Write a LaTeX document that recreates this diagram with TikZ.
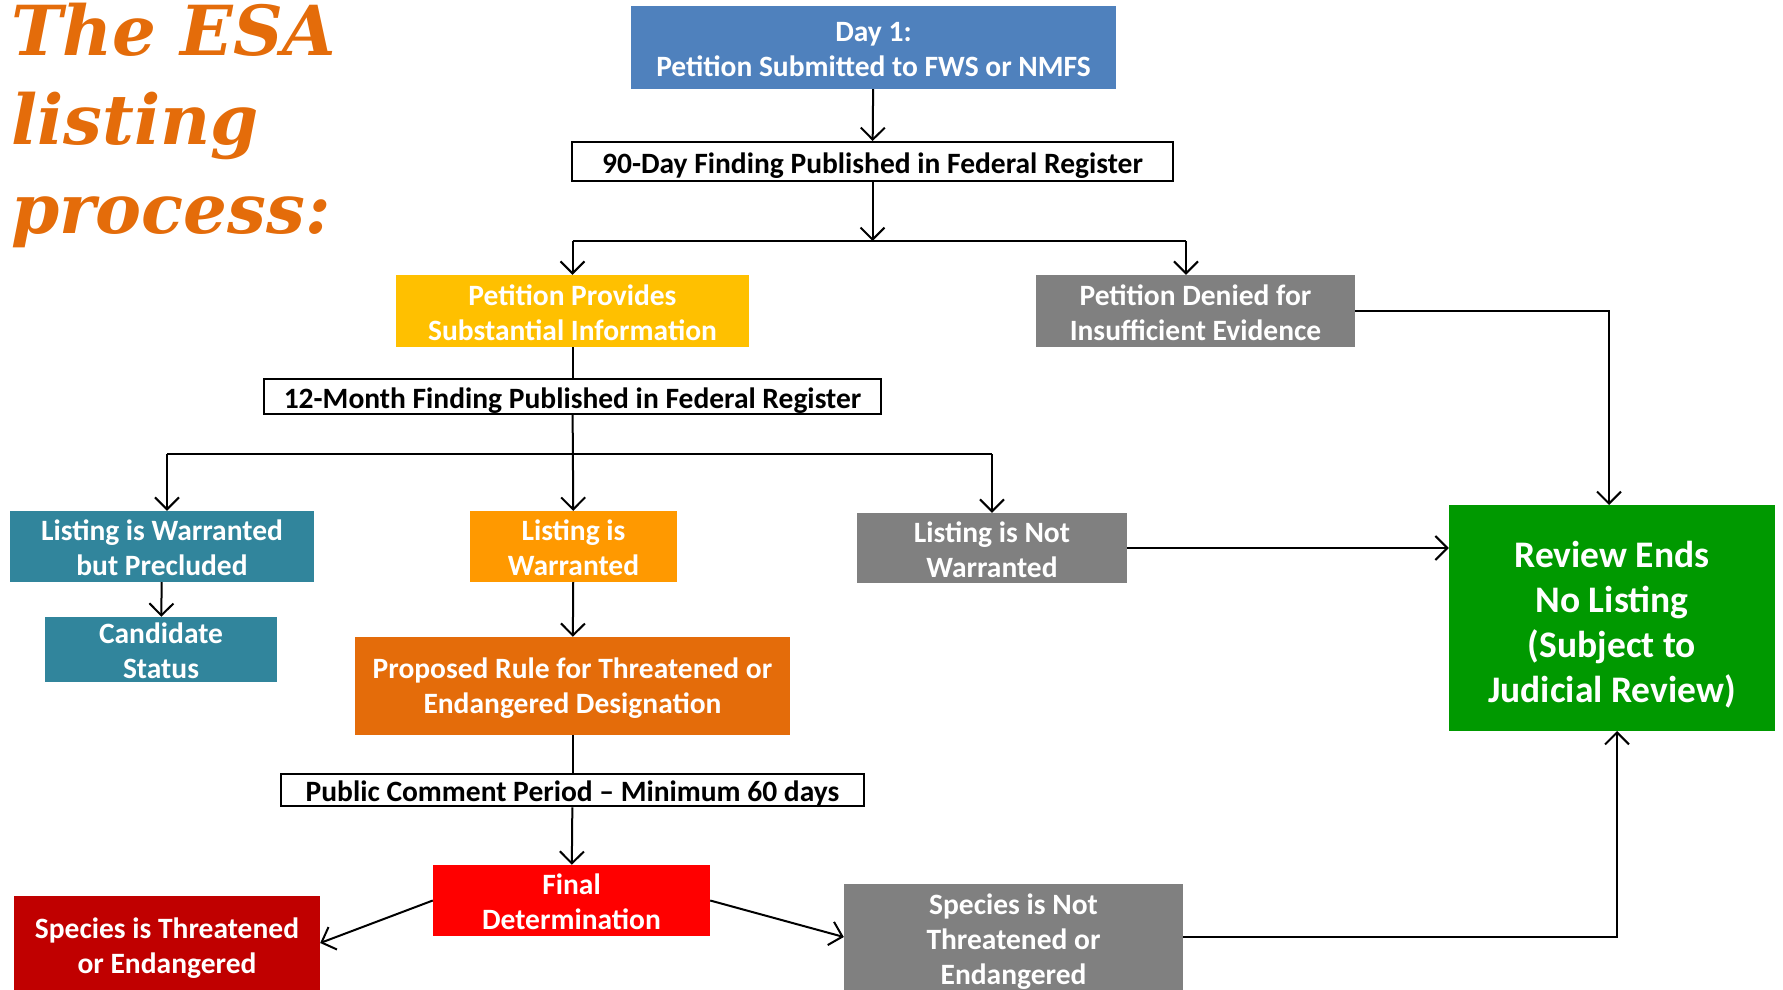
\documentclass[tikz,border=0pt]{standalone}
\usepackage{fontspec}
\setmainfont{Carlito}
\newfontfamily\titlefont{DejaVu Serif}
\usetikzlibrary{arrows.meta}
\definecolor{cblue}{HTML}{4F81BD}
\definecolor{cyellow}{HTML}{FFC000}
\definecolor{cgray}{HTML}{808080}
\definecolor{cteal}{HTML}{31859C}
\definecolor{corange}{HTML}{FF9900}
\definecolor{cdorange}{HTML}{E46C0A}
\definecolor{cred}{HTML}{FF0000}
\definecolor{cdred}{HTML}{C00000}
\definecolor{cgreen}{HTML}{009900}
\newcommand\tstr{\rule{0pt}{24pt}}
\newcommand\sstr{\rule{0pt}{30.5pt}}
\newcommand\wstr{\rule{0pt}{28pt}}
\newcommand\bstr{\rule{0pt}{39pt}}
\tikzset{
  box/.style={rectangle, inner sep=0pt, align=center, text=white,
    font=\bfseries\fontsize{29.5}{35}\selectfont},
  wbox/.style={rectangle, inner sep=0pt, align=center, text=black, draw=black,
    line width=2pt, fill=white, font=\bfseries\fontsize{29.5}{35}\selectfont},
  conn/.style={line width=2pt, draw=black},
  arr/.style={conn, -{Straight Barb[length=12pt,width=24pt,line width=2pt]}},
}
\begin{document}
\begin{tikzpicture}[x=1pt,y=-1pt]
\useasboundingbox (0,0) rectangle (1783,990);
% title
\node[anchor=north west, inner sep=0pt, align=left, text=cdorange,
  font=\titlefont\bfseries\itshape\fontsize{69}{89}\selectfont] (title) at (11,3)
  {The ESA\\listing\\process:};
% nodes
\node[box, fill=cblue, minimum width=485pt, minimum height=83pt] (day1) at (873.5,47.5)
  {\tstr Day 1:\\Petition Submitted to FWS or NMFS};
\node[wbox, minimum width=601pt, minimum height=39pt] (d90) at (872.5,161.5)
  {\wstr 90-Day Finding Published in Federal Register};
\node[box, fill=cyellow, minimum width=353pt, minimum height=72pt] (peti) at (572.5,311)
  {\tstr Petition Provides\\Substantial Information};
\node[box, fill=cgray, minimum width=319pt, minimum height=72pt] (deny) at (1195.5,311)
  {\tstr Petition Denied for\\Insufficient Evidence};
\node[wbox, minimum width=617pt, minimum height=35pt] (m12) at (572.5,396.5)
  {\wstr 12-Month Finding Published in Federal Register};
\node[box, fill=cteal, minimum width=304pt, minimum height=71pt] (lwbp) at (162,546.5)
  {\tstr Listing is Warranted\\but Precluded};
\node[box, fill=cteal, minimum width=232pt, minimum height=65pt] (cand) at (161,649.5)
  {\tstr Candidate\\Status};
\node[box, fill=corange, minimum width=207pt, minimum height=71pt] (lw) at (573.5,546.5)
  {\tstr Listing is\\Warranted};
\node[box, fill=cgray, minimum width=270pt, minimum height=70pt] (lnw) at (992,548)
  {\tstr Listing is Not\\Warranted};
\node[box, fill=cgreen, minimum width=326pt, minimum height=226pt,
  font=\bfseries\fontsize{37.5}{45}\selectfont] (review) at (1612,618)
  {\bstr Review Ends\\No Listing\\(Subject to\\Judicial Review)};
\node[box, fill=cdorange, minimum width=435pt, minimum height=98pt] (prop) at (572.5,686)
  {\tstr Proposed Rule for Threatened or\\Endangered Designation};
\node[wbox, minimum width=583pt, minimum height=32pt] (pub) at (572.5,790)
  {\wstr Public Comment Period -- Minimum 60 days};
\node[box, fill=cred, minimum width=277pt, minimum height=71pt] (fin) at (571.5,900.5)
  {\tstr Final\\Determination};
\node[box, fill=cdred, minimum width=306pt, minimum height=94pt] (ste) at (167,943)
  {\sstr Species is Threatened\\or Endangered};
\node[box, fill=cgray, minimum width=339pt, minimum height=106pt] (snt) at (1013.5,937)
  {\sstr Species is Not\\Threatened or\\Endangered};
% helper coordinates
\coordinate (s1) at (872.5,241);
\coordinate (sL) at (572.5,241);
\coordinate (sR) at (1186,241);
\coordinate (s2L) at (167,454);
\coordinate (s2R) at (992,454);
\coordinate (rtop) at (1609,505);
\coordinate (rbot) at (1617,731);
% connectors
\draw[arr] (day1) -- (d90);
\draw[arr] (d90.south) -- (s1);
\draw[conn] (sL) -- (sR);
\draw[arr] (sL) -- (peti.north);
\draw[arr] (sR) -- (sR |- deny.north);
\draw[conn] (peti) -- (m12);
\draw[arr] (m12) -- (lw);
\draw[conn] (s2L) -- (s2R);
\draw[arr] (s2L) -- (s2L |- lwbp.north);
\draw[arr] (s2R) -- (lnw.north);
\draw[arr] (lwbp) -- (cand);
\draw[arr] (lnw.east) -- (lnw.east -| review.west);
\draw[arr] (deny.east) -| (rtop);
\draw[arr] (lw) -- (prop);
\draw[conn] (prop) -- (pub);
\draw[arr] (pub) -- (fin);
\draw[arr] (fin.west) -- (ste.east);
\draw[arr] (fin.east) -- (snt.west);
\draw[arr] (snt.east) -| (rbot);
\end{tikzpicture}
\end{document}
